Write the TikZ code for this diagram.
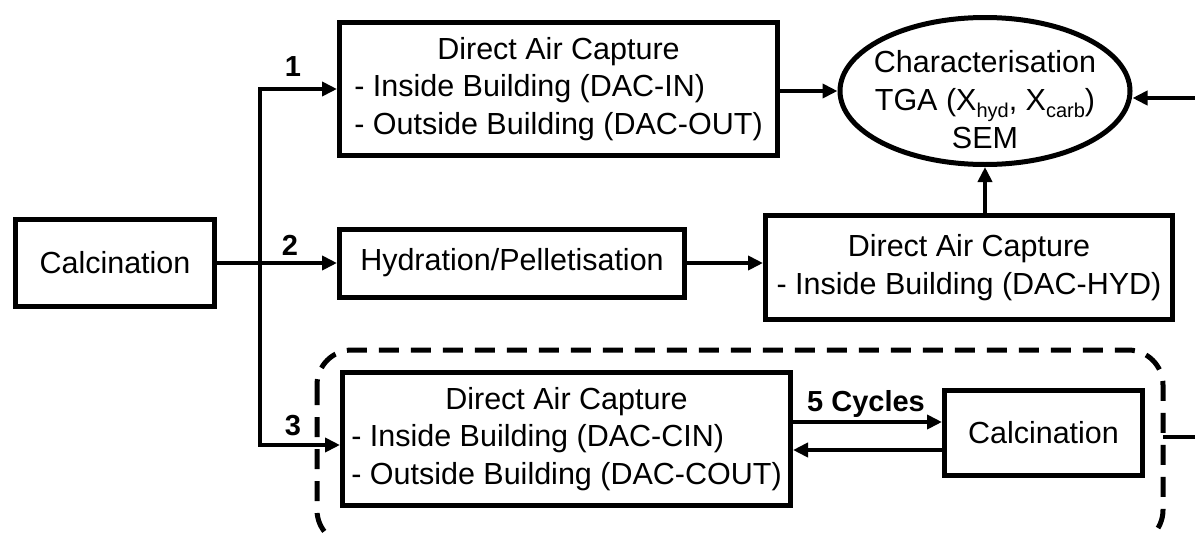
\documentclass[tikz,border=0pt]{standalone}
\usepackage{fontspec}
\setmainfont{Liberation Sans}
\usetikzlibrary{arrows.meta,shapes.geometric}
\newcommand\subx[1]{\raisebox{-0.22em}{\fontsize{20}{20}\selectfont #1}}
\begin{document}
\begin{tikzpicture}[x=1pt,y=-1pt,
  box/.style={draw,line width=5pt,rectangle,inner sep=0pt,font=\fontsize{30.5}{37.5}\selectfont,align=center},
  conn/.style={line width=4pt,-{Triangle[length=15pt,width=14pt]}},
  plain/.style={line width=4pt},
  lbl/.style={font=\fontsize{29}{29}\selectfont\bfseries,inner sep=0pt},
  group/.style={line width=5pt,dash pattern=on 20pt off 12pt,rounded corners=35pt}]
\clip (0,0) rectangle (1195,533);

\node[box,minimum width=199pt,minimum height=87pt] (calc1) at (115,263) {Calcination};
\node[box,minimum width=438pt,minimum height=133pt] (dac1) at (558.5,89)
  {\begin{tabular}{@{}l@{}}\multicolumn{1}{@{}c@{}}{Direct Air Capture}\\- Inside Building (DAC-IN)\\- Outside Building (DAC-OUT)\end{tabular}};
\node[draw,ellipse,line width=5pt,minimum width=290pt,minimum height=147pt,inner sep=0pt] (char) at (985,91) {};
\node[align=center,font=\fontsize{30.5}{38}\selectfont,inner sep=0pt] (chartext) at (985,100)
  {Characterisation\\TGA (X\subx{hyd}, X\subx{carb})\\SEM};
\node[box,minimum width=345pt,minimum height=68pt] (hyd) at (512,263) {Hydration/Pelletisation};
\node[box,minimum width=407pt,minimum height=104pt] (dachyd) at (969,267.5)
  {Direct Air Capture\\- Inside Building (DAC-HYD)};
\node[box,minimum width=448pt,minimum height=133pt] (dacc) at (566.5,439)
  {\begin{tabular}{@{}l@{}}\multicolumn{1}{@{}c@{}}{Direct Air Capture}\\- Inside Building (DAC-CIN)\\- Outside Building (DAC-COUT)\end{tabular}};
\node[box,minimum width=198pt,minimum height=85pt] (calc2) at (1043.5,433) {Calcination};

\draw[group] (317,350) rectangle (1163,545);

\coordinate (trunkTop) at (260,89);
\coordinate (trunkBot) at (260,445);
\coordinate (fwd) at (0,422);
\coordinate (bck) at (0,450);
\coordinate (rin) at (1205,98);
\coordinate (dashR) at (1163,437);
\coordinate (outE) at (1205,437);

\draw[conn] (trunkBot) -- (trunkTop) -- (dac1.west);
\draw[conn] (trunkTop) -- (trunkBot) -- (trunkBot -| dacc.west);
\draw[conn] (calc1.east) -- (calc1.east -| hyd.west);
\draw[conn] (dac1.east |- char.west) -- (char.west);
\draw[conn] (rin) -- (rin -| char.east);
\draw[conn] (char.south |- dachyd.north) -- (char.south);
\draw[conn] (hyd.east) -- (hyd.east -| dachyd.west);
\draw[conn] (dacc.east |- fwd) -- (calc2.west |- fwd);
\draw[conn] (calc2.west |- bck) -- (dacc.east |- bck);
\draw[plain] (dashR) -- (outE);

\node[lbl] (l1) at (293,67) {1};
\node[lbl] (l2) at (290,245) {2};
\node[lbl] (l3) at (293,426) {3};
\node[lbl] (cyc) at (866,404) {5 Cycles};
\end{tikzpicture}
\end{document}
